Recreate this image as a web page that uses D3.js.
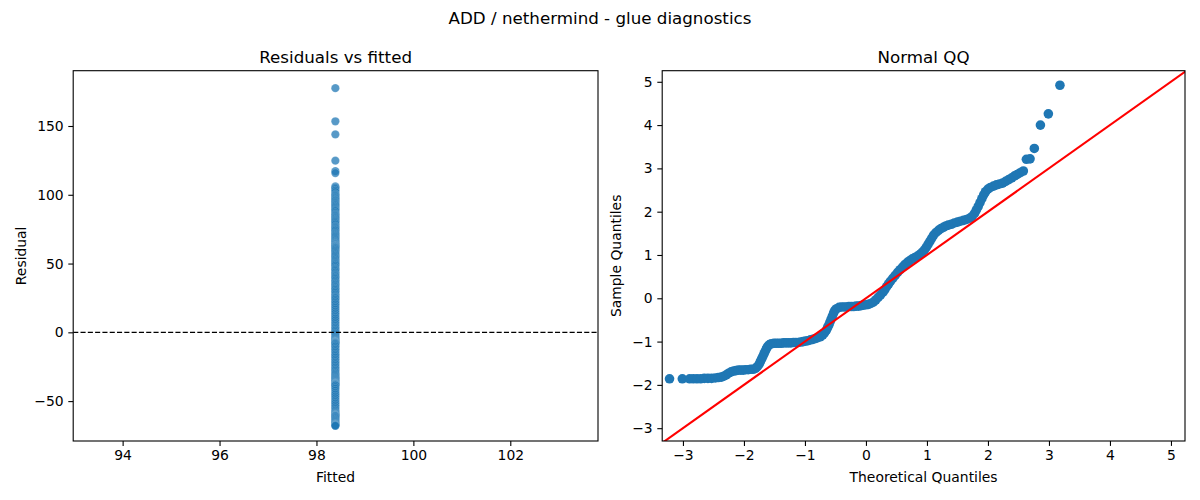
<!DOCTYPE html>
<html lang="en">
<head>
  <meta charset="UTF-8"/>
  <title>ADD / nethermind - glue diagnostics</title>
  <script src="https://d3js.org/d3.v7.min.js"></script>
  <style>
    body { margin: 0; background: #fff; }
    svg { display: block; font-family: 'DejaVu Sans', sans-serif; }
    .tick text { font-size: 13.9px; fill: #000; }
    .tick line { stroke: #000; stroke-width: 1.1; }
    .title { font-size: 16.7px; fill: #000; }
    .label { font-size: 13.9px; fill: #000; }
  </style>
</head>
<body>
<svg width="1200" height="500"></svg>
<script>
// fitted value (one level only) and the residuals
const fitted = 98.39;
const residuals = [177.5, 153.4, 143.9, 124.8, 117.2, 115.8, 106.1, 105.2, 104.3, 103.1,
  102.0, 100.6, 99.8, 99.1, 98.2, 97.4, 96.5, 95.8, 94.9, 94.1, 93.2, 92.4, 91.5, 90.6,
  89.7, 88.9, 88.2, 87.0, 86.0, 85.3, 84.6, 83.7, 82.9, 82.0, 81.2, 80.4, 79.5, 78.5,
  77.3, 76.6, 75.8, 74.9, 74.1, 73.0, 72.0, 71.2, 70.4, 69.6, 68.7, 67.8, 66.9, 66.0,
  65.3, 64.6, 64.1, 63.5, 63.0, 62.6, 62.2, 61.7, 61.1, 60.3, 59.4, 58.5, 57.6, 56.7,
  55.8, 54.9, 54.0, 53.1, 52.1, 51.2, 50.3, 49.5, 48.6, 47.5, 46.4, 45.6, 44.7, 43.6,
  42.5, 41.6, 40.8, 39.8, 38.9, 37.8, 36.7, 35.7, 34.8, 33.8, 32.9, 31.9, 31.0, 29.9,
  28.8, 27.6, 26.5, 25.6, 24.9, 23.8, 22.7, 21.5, 20.4, 19.1, 17.9, 16.6, 15.2, 13.9,
  12.6, 11.3, 10.1, 8.8, 7.4, 6.1, 4.8, 3.6, 2.5, 1.4, 0.3, -0.8, -1.8, -2.9, -3.9,
  -4.7, -5.4, -6.0, -6.5, -6.8, -7.1, -7.3, -7.6, -7.9, -8.4, -9.3, -10.2, -11.4, -12.5,
  -13.6, -14.8, -16.0, -17.1, -18.3, -19.6, -20.8, -22.0, -23.1, -24.3, -25.5, -26.7,
  -27.8, -28.9, -29.9, -30.8, -31.7, -32.6, -33.4, -34.1, -34.8, -35.5, -36.1, -36.6,
  -37.0, -37.3, -37.5, -37.8, -38.2, -38.6, -39.7, -40.9, -42.3, -43.8, -45.1, -46.5,
  -47.8, -49.2, -50.5, -51.7, -53.0, -54.3, -55.6, -56.8, -57.8, -58.6, -59.2, -59.8,
  -60.1, -60.3, -60.6, -60.9, -61.7, -62.5, -63.4, -64.2, -65.0, -65.8, -66.4, -66.9,
  -67.2, -67.5, -67.7, -67.9];

// normal QQ points: theoretical vs sample quantile
const qqTheo = [-3.22, -3.01, -2.89, -2.83, -2.77, -2.71, -2.65, -2.59, -2.53, -2.47, -2.42,
  -2.37, -2.33, -2.29, -2.25, -2.21, -2.17, -2.13, -2.09, -2.05, -2.01, -1.97, -1.93, -1.89,
  -1.85, -1.81, -1.78, -1.75, -1.73, -1.71, -1.69, -1.67, -1.65, -1.63, -1.61, -1.58, -1.55,
  -1.51, -1.47, -1.43, -1.39, -1.35, -1.31, -1.27, -1.23, -1.19, -1.15, -1.11, -1.07, -1.03,
  -0.99, -0.95, -0.91, -0.87, -0.83, -0.79, -0.75, -0.71, -0.68, -0.65, -0.63, -0.61, -0.59,
  -0.57, -0.55, -0.53, -0.51, -0.48, -0.44, -0.40, -0.36, -0.32, -0.28, -0.24, -0.20, -0.16,
  -0.12, -0.08, -0.04, 0.00, 0.04, 0.08, 0.12, 0.16, 0.20, 0.24, 0.28, 0.31, 0.34, 0.37, 0.40,
  0.44, 0.48, 0.52, 0.56, 0.60, 0.64, 0.68, 0.72, 0.76, 0.80, 0.84, 0.88, 0.92, 0.96, 0.99,
  1.02, 1.05, 1.08, 1.11, 1.15, 1.19, 1.23, 1.27, 1.31, 1.35, 1.40, 1.45, 1.50, 1.55, 1.60,
  1.65, 1.70, 1.74, 1.78, 1.81, 1.84, 1.87, 1.90, 1.93, 1.96, 2.00, 2.04, 2.09, 2.14, 2.19,
  2.24, 2.29, 2.34, 2.39, 2.44, 2.48, 2.53, 2.58, 2.63, 2.69, 2.76, 2.86, 2.99, 3.18];
const qqSample = [-1.86, -1.86, -1.86, -1.86, -1.86, -1.86, -1.85, -1.85, -1.85, -1.84, -1.83,
  -1.82, -1.80, -1.77, -1.73, -1.70, -1.68, -1.67, -1.66, -1.66, -1.66, -1.65, -1.65, -1.64,
  -1.64, -1.62, -1.58, -1.52, -1.46, -1.40, -1.34, -1.28, -1.22, -1.16, -1.11, -1.07, -1.05,
  -1.04, -1.04, -1.04, -1.04, -1.03, -1.03, -1.03, -1.03, -1.02, -1.02, -1.02, -1.01, -1.00,
  -0.99, -0.98, -0.96, -0.95, -0.93, -0.91, -0.89, -0.85, -0.80, -0.74, -0.68, -0.62, -0.55,
  -0.48, -0.41, -0.34, -0.28, -0.24, -0.21, -0.20, -0.20, -0.20, -0.19, -0.19, -0.19, -0.18,
  -0.18, -0.17, -0.16, -0.15, -0.14, -0.12, -0.09, -0.04, 0.02, 0.08, 0.14, 0.20, 0.27, 0.33,
  0.39, 0.46, 0.53, 0.60, 0.66, 0.72, 0.78, 0.83, 0.87, 0.91, 0.94, 0.97, 1.01, 1.06, 1.12,
  1.18, 1.25, 1.32, 1.39, 1.46, 1.52, 1.57, 1.61, 1.64, 1.67, 1.69, 1.71, 1.74, 1.76, 1.78,
  1.80, 1.82, 1.85, 1.89, 1.96, 2.04, 2.12, 2.21, 2.30, 2.39, 2.46, 2.52, 2.56, 2.59, 2.62,
  2.64, 2.66, 2.70, 2.74, 2.78, 2.83, 2.86, 2.90, 2.94, 3.21, 3.22, 3.46, 4.00, 4.26, 4.92];

const leftTicksX = [94, 96, 98, 100, 102];
const leftTicksY = [-50, 0, 50, 100, 150];
const qqTicksX = [-3, -2, -1, 0, 1, 2, 3, 4, 5];
const qqTicksY = [-3, -2, -1, 0, 1, 2, 3, 4, 5];

const svg = d3.select('svg');
const yTop = 70.7, yBottom = 441;
const blue = '#1f77b4';

svg.append('text').attr('class', 'title')
  .attr('x', 600).attr('y', 24).attr('text-anchor', 'middle')
  .text('ADD / nethermind - glue diagnostics');

function panel(x0, x1, xDom, yDom, xTicks, yTicks, title, xLab, yLab, yLabX) {
  const x = d3.scaleLinear().domain(xDom).range([x0, x1]);
  const y = d3.scaleLinear().domain(yDom).range([yBottom, yTop]);
  const id = 'clip' + Math.round(x0);
  svg.append('clipPath').attr('id', id)
    .append('rect').attr('x', x0).attr('y', yTop).attr('width', x1 - x0).attr('height', yBottom - yTop);

  const gx = svg.append('g').attr('transform', `translate(0,${yBottom})`)
    .call(d3.axisBottom(x).tickValues(xTicks).tickSizeInner(4.9).tickSizeOuter(0).tickPadding(4.6));
  const gy = svg.append('g').attr('transform', `translate(${x0},0)`)
    .call(d3.axisLeft(y).tickValues(yTicks).tickSizeInner(4.9).tickSizeOuter(0).tickPadding(4.6));
  gx.select('.domain').remove();
  gy.select('.domain').remove();
  gx.attr('font-family', null).attr('font-size', null);
  gy.attr('font-family', null).attr('font-size', null);

  svg.append('text').attr('class', 'title')
    .attr('x', (x0 + x1) / 2).attr('y', 62.5).attr('text-anchor', 'middle').text(title);
  svg.append('text').attr('class', 'label')
    .attr('x', (x0 + x1) / 2).attr('y', 482).attr('text-anchor', 'middle').text(xLab);
  svg.append('text').attr('class', 'label')
    .attr('transform', `translate(${yLabX},${(yTop + yBottom) / 2}) rotate(-90)`)
    .attr('text-anchor', 'middle').text(yLab);

  const plot = svg.append('g').attr('clip-path', `url(#${id})`);
  return { x, y, plot, x0, x1 };
}

function frame(p) {
  svg.append('rect').attr('x', p.x0).attr('y', yTop)
    .attr('width', p.x1 - p.x0).attr('height', yBottom - yTop)
    .attr('fill', 'none').attr('stroke', '#000').attr('stroke-width', 1.1);
}

// left: residuals vs fitted
const L = panel(73.2, 598, [92.98, 103.81], [-79.0, 190.2], leftTicksX, leftTicksY,
  'Residuals vs fitted', 'Fitted', 'Residual', 26);
L.plot.selectAll('circle').data(residuals).join('circle')
  .attr('cx', L.x(fitted)).attr('cy', d => L.y(d)).attr('r', 4.17)
  .attr('fill', blue).attr('fill-opacity', 0.75)
  .attr('stroke', '#fff').attr('stroke-opacity', 0.3).attr('stroke-width', 0.6);
L.plot.append('line')
  .attr('x1', L.x0).attr('x2', L.x1).attr('y1', L.y(0)).attr('y2', L.y(0))
  .attr('stroke', '#000').attr('stroke-width', 1.39).attr('stroke-dasharray', '5.1 2.2');
frame(L);

// right: normal QQ
const R = panel(662.2, 1185, [-3.34, 5.23], [-3.296, 5.256], qqTicksX, qqTicksY,
  'Normal QQ', 'Theoretical Quantiles', 'Sample Quantiles', 620.5);
R.plot.selectAll('circle').data(qqTheo).join('circle')
  .attr('cx', d => R.x(d)).attr('cy', (d, i) => R.y(qqSample[i])).attr('r', 4.8)
  .attr('fill', blue);
const lo = -3.4, hi = 5.3;
R.plot.append('line')
  .attr('x1', R.x(lo)).attr('y1', R.y(lo)).attr('x2', R.x(hi)).attr('y2', R.y(hi))
  .attr('stroke', '#ff0000').attr('stroke-width', 2.08);
frame(R);
</script>
</body>
</html>
